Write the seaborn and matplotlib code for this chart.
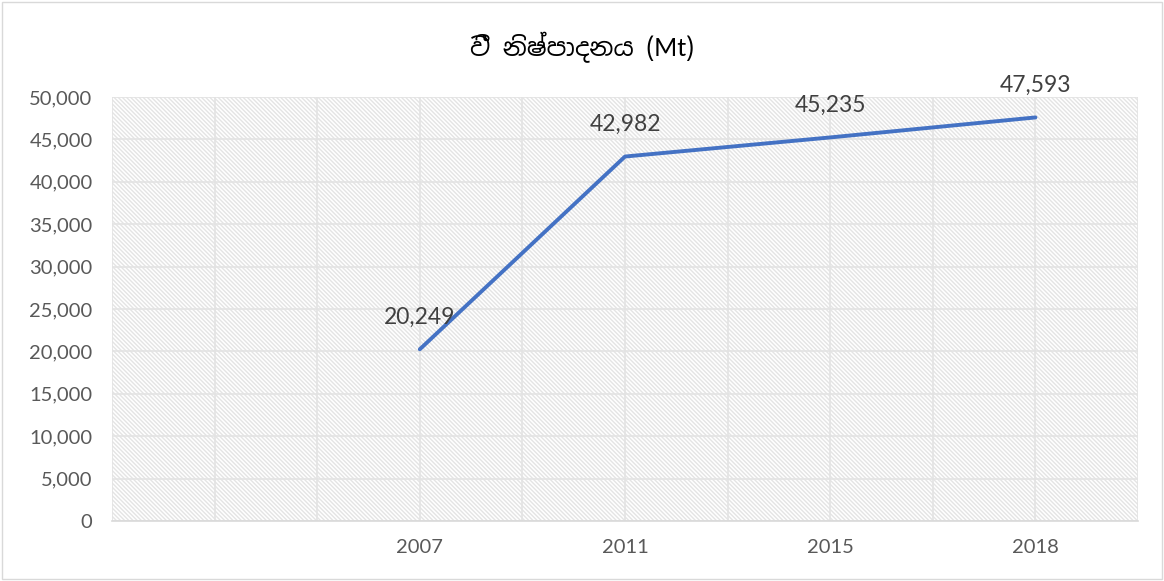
import matplotlib
matplotlib.use("Agg")
import matplotlib.pyplot as plt
from matplotlib import font_manager
from matplotlib.patches import Rectangle
from matplotlib.ticker import FuncFormatter, MultipleLocator
import pandas as pd
import seaborn as sns

# Data
years = ["2007", "2011", "2015", "2018"]
production = [20249, 42982, 45235, 47593]
title = "වී නිෂ්පාදනය (Mt)"

df = pd.DataFrame({"year": years, "production": production})

sns.set_theme(style="white")
plt.rcParams["font.family"] = ["Lato", "DejaVu Sans"]
plt.rcParams["hatch.linewidth"] = 1.0

# look for any font that can draw Sinhala
sinhala = [f.name for f in font_manager.fontManager.ttflist
           if "sinhala" in f.name.lower() or "iskoola" in f.name.lower()]
title_family = sinhala[:1] + ["Lato", "DejaVu Sans"]

fig = plt.figure(figsize=(11.64, 5.81), dpi=100)
ax = fig.add_axes([0.0962, 0.1033, 0.8815, 0.7297])

# hatched plot area background
bg = Rectangle((0, 0), 1, 1, transform=ax.transAxes, facecolor="white",
               edgecolor="#e4e4e4", hatch="\\" * 8, linewidth=0, zorder=0)
ax.add_patch(bg)

sns.lineplot(data=df, x="year", y="production", ax=ax, color="#4472C4",
             linewidth=2.8, sort=False, zorder=3)

ax.set_xlim(-1.5, 3.5)
ax.set_ylim(0, 50000)
ax.yaxis.set_major_locator(MultipleLocator(5000))
ax.yaxis.set_major_formatter(FuncFormatter(lambda v, p: f"{int(v):,}"))
ax.xaxis.set_minor_locator(MultipleLocator(0.5))
ax.set_xticks(range(len(years)))
ax.set_xticklabels(years)

ax.grid(True, which="both", axis="x", color="#e3e3e3", linewidth=1.2)
ax.grid(True, which="major", axis="y", color="#e3e3e3", linewidth=1.2)
ax.set_axisbelow(True)
for s in ["top", "right", "left"]:
    ax.spines[s].set_visible(False)
ax.spines["bottom"].set_color("#d9d9d9")
ax.spines["bottom"].set_linewidth(1.2)

ax.tick_params(axis="both", which="both", length=0, labelsize=14.5,
               labelcolor="#595959")
ax.tick_params(axis="y", pad=14)
ax.tick_params(axis="x", pad=13)
ax.set_xlabel("")
ax.set_ylabel("")

for i, v in enumerate(production):
    ax.annotate(f"{v:,}", (i, v), xytext=(0, 23), textcoords="offset points",
                ha="center", va="center", fontsize=16.5, color="#404040")

fig.text(0.5, 0.919, title, ha="center", va="center", fontsize=18,
         color="black", family=title_family)

# chart border
fig.patches.append(Rectangle((0.002, 0.003), 0.996, 0.994,
                             transform=fig.transFigure, fill=False,
                             edgecolor="#d9d9d9", linewidth=1))

fig.savefig("out.png", dpi=100)
